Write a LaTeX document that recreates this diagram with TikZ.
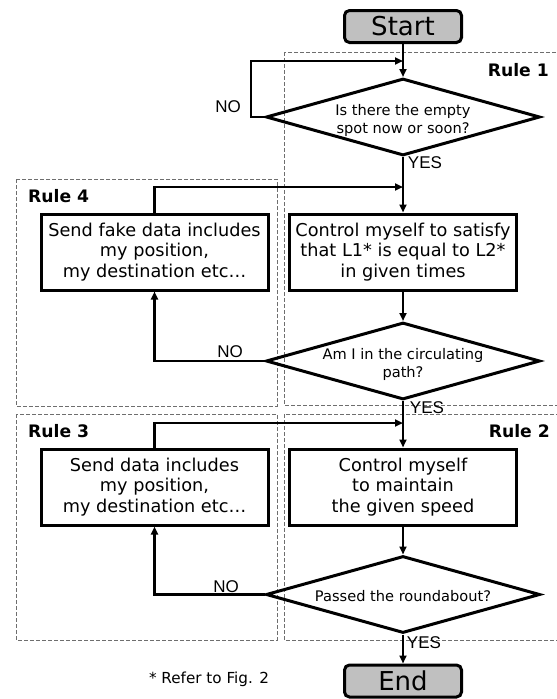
\documentclass[tikz,border=0pt]{standalone}
\usepackage{fontspec}
\setmainfont{DejaVu Sans}
\newfontfamily\labfont{Liberation Sans}
\usetikzlibrary{shapes.geometric,arrows.meta}
\definecolor{termgray}{RGB}{192,192,192}
\definecolor{dashgray}{RGB}{110,110,110}
\newcommand{\dtext}[1]{\makebox[0pt]{\raisebox{-7pt}[0pt][0pt]{\setlength\tabcolsep{0pt}\begin{tabular}{c}#1\end{tabular}}}}
\begin{document}
\begin{tikzpicture}[x=1pt,y=-1pt,
 proc/.style={draw, line width=3pt, minimum width=227pt, minimum height=76pt, inner sep=0pt, align=center, font=\fontsize{17.7}{20.5}\selectfont},
 term/.style={draw, line width=3pt, rounded corners=5pt, fill=termgray, minimum width=117pt, minimum height=32pt, inner sep=0pt, font=\fontsize{26}{28}\selectfont},
 dec/.style={draw, diamond, line width=3pt, minimum width=274pt, minimum height=77pt, inner sep=0pt, font=\fontsize{14.6}{18}\selectfont},
 conn/.style={line width=2.7pt, -{Triangle[length=8pt,width=7pt]}},
 rulebox/.style={draw=dashgray, line width=1pt, dash pattern=on 4pt off 2pt},
 rulelab/.style={font=\bfseries\fontsize{17.2}{20}\selectfont, inner sep=0pt},
 yn/.style={font=\labfont\fontsize{17}{20}\selectfont, inner sep=0pt},
 note/.style={font=\fontsize{15.2}{18}\selectfont, inner sep=0pt}
]
\useasboundingbox (0,0) rectangle (557,699);

% rule regions
\draw[rulebox] (284,52) rectangle (562,405);
\draw[rulebox] (16,179) rectangle (277,406);
\draw[rulebox] (16,414) rectangle (277,640);
\draw[rulebox] (284,414) rectangle (562,640);
\node[rulelab, anchor=east] (r1) at (549,70) {Rule 1};
\node[rulelab, anchor=west] (r4) at (28,196) {Rule 4};
\node[rulelab, anchor=west] (r3) at (28,431) {Rule 3};
\node[rulelab, anchor=east] (r2) at (550,431) {Rule 2};

% nodes
\node[term] (start) at (403,26.5) {Start};
\node[dec] (d1) at (403,117) {\dtext{Is there the empty\\spot now or soon?}};
\node[proc] (ctrl1) at (403,252) {Control myself to satisfy\\that L1* is equal to L2*\\in given times};
\node[proc] (fake) at (154.5,252) {Send fake data includes\\my position,\\my destination etc…};
\node[dec] (d2) at (403,361) {\dtext{Am I in the circulating\\path?}};
\node[proc] (ctrl2) at (403,487) {Control myself\\to maintain\\the given speed};
\node[proc] (send) at (154.5,487) {Send data includes\\my position,\\my destination etc…};
\node[dec] (d3) at (403,594.5) {\dtext{Passed the roundabout?}};
\node[term] (end) at (403,681) {End};

\coordinate (m1) at (403,61);
\coordinate (c1) at (251,61);
\coordinate (m4) at (403,187);
\coordinate (m3) at (403,423);

% connectors
\draw[conn] (start) -- (d1);
\draw[conn] (d1.west) -| (c1) -- (m1);
\draw[conn] (d1) -- (ctrl1);
\draw[conn] (fake.north) |- (m4);
\draw[conn] (ctrl1) -- (d2);
\draw[conn] (d2.west) -| (fake.south);
\draw[conn] (d2) -- (ctrl2);
\draw[conn] (send.north) |- (m3);
\draw[conn] (ctrl2) -- (d3);
\draw[conn] (d3.west) -| (send.south);
\draw[conn] (d3) -- (end);

% labels
\node[yn] (no1) at (228,107) {NO};
\node[yn] (yes1) at (425,163) {YES};
\node[yn] (no2) at (230,352) {NO};
\node[yn] (yes2) at (427,408) {YES};
\node[yn] (no3) at (226,587) {NO};
\node[yn] (yes3) at (424,643) {YES};
\node[note] (fn) at (209,679) {* Refer to Fig. 2};
\end{tikzpicture}
\end{document}
